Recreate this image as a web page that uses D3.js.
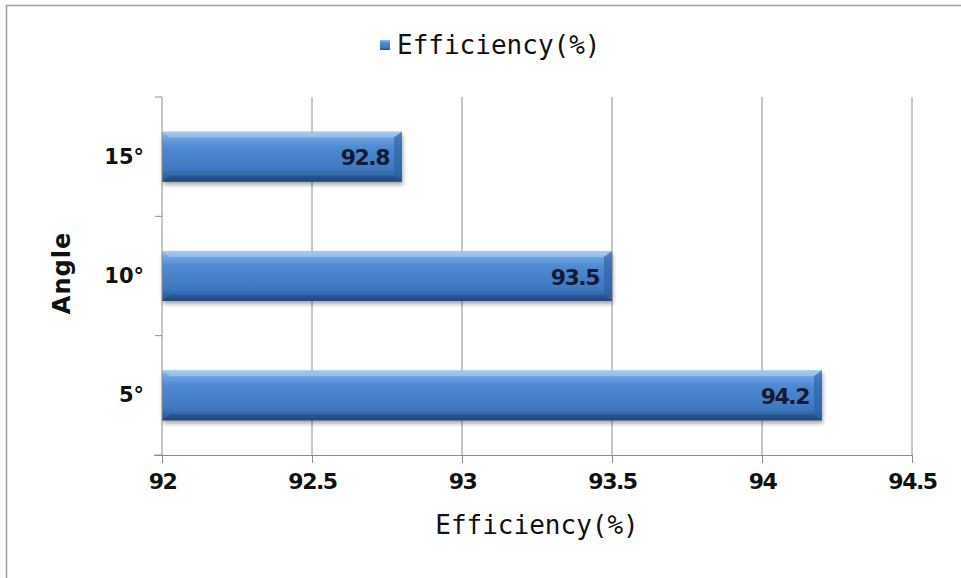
<!DOCTYPE html>
<html>
<head>
<meta charset="utf-8">
<script src="https://cdn.jsdelivr.net/npm/d3@7"></script>
<style>
  html, body { margin: 0; padding: 0; background: #fff; }
  svg { display: block; }
  text { font-family: "DejaVu Sans", "Noto Sans", sans-serif; fill: #111; }
</style>
</head>
<body>
<svg id="chart" width="961" height="578"></svg>
<script>
// Efficiency by blade angle
const categories = ["5°", "10°", "15°"];
const efficiency = [94.2, 93.5, 92.8];
const xTicks = [92, 92.5, 93, 93.5, 94, 94.5];
const seriesName = "Efficiency(%)";

const svg = d3.select("#chart");
const W = 961, H = 578;
const plot = { left: 162, right: 912, top: 97, bottom: 455 };

// outer frame
svg.append("rect")
  .attr("x", 6.5).attr("y", 5.5)
  .attr("width", W + 10).attr("height", H + 10)
  .attr("fill", "#fff").attr("stroke", "#a0a0a0").attr("stroke-width", 1.5);

const defs = svg.append("defs");
const grad = defs.append("linearGradient")
  .attr("id", "barGrad").attr("x1", 0).attr("y1", 0).attr("x2", 0).attr("y2", 1);
[["0%", "#9cc6f0"], ["12%", "#6fa4e0"], ["30%", "#4f8ad3"], ["75%", "#3f78c0"], ["92%", "#2f5f9f"], ["100%", "#244b80"]]
  .forEach(([o, c]) => grad.append("stop").attr("offset", o).attr("stop-color", c));
const sh = defs.append("filter").attr("id", "shadow").attr("x", "-5%").attr("y", "-20%").attr("width", "115%").attr("height", "160%");
sh.append("feGaussianBlur").attr("in", "SourceAlpha").attr("stdDeviation", 2);
sh.append("feOffset").attr("dx", 1).attr("dy", 3).attr("result", "b");
sh.append("feComponentTransfer").append("feFuncA").attr("type", "linear").attr("slope", 0.35);
const m = sh.append("feMerge");
m.append("feMergeNode");
m.append("feMergeNode").attr("in", "SourceGraphic");

const x = d3.scaleLinear().domain([92, 94.5]).range([plot.left, plot.right]);
const y = d3.scaleBand().domain(categories).range([plot.bottom, plot.top]).paddingInner(0.58).paddingOuter(0.29);

// vertical gridlines
svg.append("g").selectAll("line")
  .data(xTicks.slice(1))
  .join("line")
  .attr("x1", d => x(d)).attr("x2", d => x(d))
  .attr("y1", plot.top).attr("y2", plot.bottom)
  .attr("stroke", "#8c8c8c").attr("stroke-width", 1);

// bars
const bars = svg.append("g");
categories.forEach((c, i) => {
  const v = efficiency[i];
  const x0 = x(92), x1 = x(v), y0 = y(c), h = y.bandwidth();
  const g = bars.append("g").attr("filter", "url(#shadow)");
  g.append("rect")
    .attr("x", x0).attr("y", y0).attr("width", x1 - x0).attr("height", h)
    .attr("fill", "url(#barGrad)");
  // bevel highlight along top and darker right end
  g.append("path")
    .attr("d", `M${x0},${y0} L${x1},${y0} L${x1 - 8},${y0 + 6} L${x0 + 8},${y0 + 6} Z`)
    .attr("fill", "#a9cff5").attr("opacity", 0.55);
  g.append("path")
    .attr("d", `M${x1},${y0} L${x1},${y0 + h} L${x1 - 8},${y0 + h - 6} L${x1 - 8},${y0 + 6} Z`)
    .attr("fill", "#2c5f9e").attr("opacity", 0.6);
  g.append("path")
    .attr("d", `M${x0},${y0 + h} L${x1},${y0 + h} L${x1 - 8},${y0 + h - 6} L${x0 + 8},${y0 + h - 6} Z`)
    .attr("fill", "#1f4272").attr("opacity", 0.45);
  svg.append("text")
    .attr("x", x1 - 13).attr("y", y0 + h / 2 + 1)
    .attr("text-anchor", "end").attr("dominant-baseline", "central")
    .attr("font-size", 22).attr("font-weight", "bold").attr("letter-spacing", -1.5)
    .style("fill", "#141a33")
    .text(v.toFixed(1));
});

// axes
const xAxis = d3.axisBottom(x).tickValues(xTicks).tickSize(8).tickFormat(d => d3.format("")(d));
const gx = svg.append("g").attr("transform", `translate(0,${plot.bottom})`).call(xAxis);
gx.select(".domain").attr("stroke", "#8c8c8c").attr("d", `M${plot.left - 8},0.5H${plot.right}`);
gx.selectAll(".tick line").attr("stroke", "#8c8c8c");
gx.selectAll(".tick text").attr("font-size", 22).attr("font-weight", "bold").attr("dy", "1.05em").attr("letter-spacing", -1.5)
  .style("fill", "#111");

const gy = svg.append("g").attr("transform", `translate(${plot.left},0)`);
gy.append("line").attr("x1", 0).attr("x2", 0).attr("y1", plot.top).attr("y2", plot.bottom).attr("stroke", "#8c8c8c");
const step = (plot.bottom - plot.top) / categories.length;
d3.range(categories.length + 1).forEach(i => {
  gy.append("line").attr("x1", -7).attr("x2", 0)
    .attr("y1", plot.top + i * step).attr("y2", plot.top + i * step).attr("stroke", "#8c8c8c");
});
gy.selectAll("text.cat").data(categories).join("text")
  .attr("class", "cat")
  .attr("x", -18).attr("y", d => y(d) + y.bandwidth() / 2)
  .attr("text-anchor", "end").attr("dominant-baseline", "central")
  .attr("font-size", 21).attr("font-weight", "bold")
  .text(d => d);

// axis titles
svg.append("text")
  .attr("x", 537).attr("y", 525)
  .attr("text-anchor", "middle").attr("dominant-baseline", "central")
  .style("font-family", "'DejaVu Sans Mono', monospace")
  .attr("font-size", 26)
  .text("Efficiency(%)");
svg.append("text")
  .attr("transform", `translate(62,273) rotate(-90)`)
  .attr("text-anchor", "middle").attr("dominant-baseline", "central")
  .attr("font-size", 24).attr("font-weight", "bold").attr("letter-spacing", 1)
  .text("Angle");

// legend
const lg = svg.append("g");
lg.append("rect").attr("x", 380).attr("y", 40).attr("width", 10).attr("height", 10).attr("fill", "url(#barGrad)");
lg.append("text").attr("x", 397).attr("y", 45)
  .attr("dominant-baseline", "central")
  .style("font-family", "'DejaVu Sans Mono', monospace")
  .attr("font-size", 26)
  .text(seriesName);
</script>
</body>
</html>
